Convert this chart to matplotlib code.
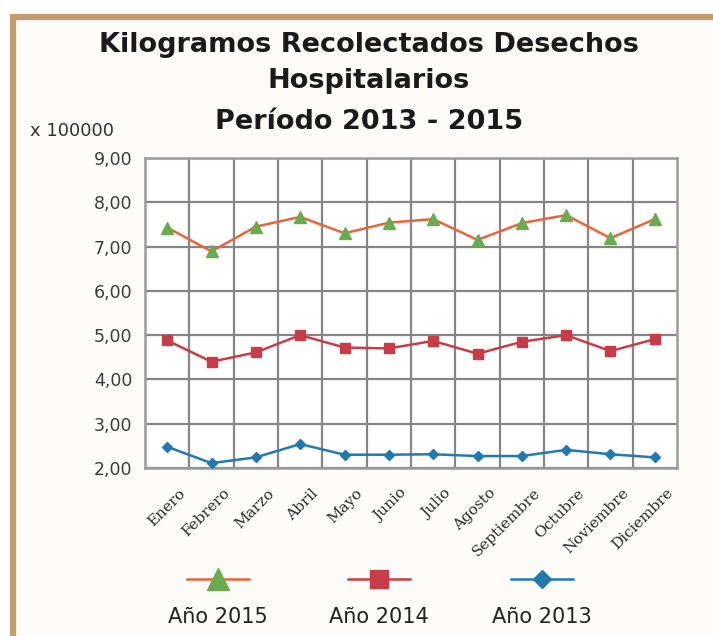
import matplotlib
matplotlib.use("Agg")
import matplotlib.pyplot as plt
from matplotlib.patches import Rectangle
from matplotlib.ticker import FuncFormatter
from matplotlib.transforms import ScaledTranslation

# ==========================================
# DATA (x 100000 kg)
# ==========================================
months = ["Enero", "Febrero", "Marzo", "Abril", "Mayo", "Junio", "Julio",
          "Agosto", "Septiembre", "Octubre", "Noviembre", "Diciembre"]
y2015 = [7.43, 6.89, 7.45, 7.67, 7.30, 7.54, 7.62, 7.15, 7.53, 7.71, 7.19, 7.62]
y2014 = [4.88, 4.40, 4.61, 5.00, 4.72, 4.70, 4.87, 4.58, 4.85, 5.00, 4.64, 4.91]
y2013 = [2.48, 2.11, 2.24, 2.54, 2.30, 2.30, 2.31, 2.27, 2.27, 2.41, 2.31, 2.24]
y_ticks = [2, 3, 4, 5, 6, 7, 8, 9]

# label, values, line colour, marker colour, marker, marker size, legend scale
series = [
    ("Año 2015", y2015, "#e8643c", "#6aab4f", "^", 8.5, 1.9),
    ("Año 2014", y2014, "#c83c48", "#c83c48", "s", 7, 1.75),
    ("Año 2013", y2013, "#2179b0", "#2179b0", "D", 5, 1.85),
]

SANS = ["DejaVu Sans"]
SERIF = ["DejaVu Serif"]
W, H = 713, 636

fig = plt.figure(figsize=(W / 100, H / 100), dpi=100)
fig.patch.set_facecolor("white")

# tan frame (only top and left edges visible)
fig.patches.append(Rectangle((13 / W, -0.5), 1.5, 1.5 - 17 / H,
                             transform=fig.transFigure, facecolor="#fdfcf9",
                             edgecolor="#c29c6c", lw=4.5, zorder=-10))

ax = fig.add_axes([145 / W, 1 - 468 / H, 532 / W, 310 / H])
ax.set_facecolor("white")

x = list(range(len(months)))
handles = []
for label, vals, lc, mc, mk, msz, _ in series:
    h, = ax.plot(x, vals, color=lc, lw=1.8, marker=mk, markersize=msz,
                 markerfacecolor=mc, markeredgecolor=mc, zorder=3, label=label)
    handles.append(h)

ax.set_xlim(-0.5, len(months) - 0.5)
ax.set_ylim(2, 9)
ax.set_yticks(y_ticks)
ax.yaxis.set_major_formatter(FuncFormatter(lambda v, p: f"{v:.2f}".replace(".", ",")))
ax.set_xticks(x)
ax.set_xticks([i + 0.5 for i in x[:-1]], minor=True)
ax.set_xticklabels(months, rotation=45, ha="right", va="center", rotation_mode="anchor",
                   family=SERIF, fontsize=11, color="#2a2a2a")
ax.tick_params(axis="x", which="both", length=0, pad=0)
ax.tick_params(axis="y", length=0, pad=9, labelsize=12.5, labelcolor="#3a3a3a")
for t in ax.get_yticklabels():
    t.set_family(SANS)
# shift month labels right/down so their right ends sit just past each point
shift = ScaledTranslation(0.16, -0.23, fig.dpi_scale_trans)
for t in ax.get_xticklabels():
    t.set_transform(t.get_transform() + shift)

ax.grid(True, axis="y", which="major", color="#858585", lw=1.6)
ax.grid(True, axis="x", which="minor", color="#858585", lw=1.6)
ax.set_axisbelow(True)
for s in ax.spines.values():
    s.set_color("#9a9a9a")
    s.set_linewidth(1.8)

# title
title_kw = dict(ha="center", va="center", family=SANS, fontweight="bold",
                fontsize=19.5, color="#1a1a1a")
fig.text(0.5175, 1 - 45 / H, "Kilogramos Recolectados Desechos", **title_kw)
fig.text(0.5175, 1 - 81 / H, "Hospitalarios", **title_kw)
fig.text(0.5175, 1 - 122 / H, "Período 2013 - 2015", **title_kw)
fig.text(30 / W, 1 - 131 / H, "x 100000", ha="left", va="center",
         family=SANS, fontsize=13, color="#333333")

# legend: handle on top, label below
centers = [218, 379, 542]
for h, cx, s in zip(handles, centers, series):
    fig.legend(handles=[h], labels=[""], loc="center", bbox_to_anchor=(cx / W, 1 - 580 / H),
               handlelength=4.5, handletextpad=0, borderpad=0, frameon=False,
               markerscale=s[6], fontsize=10)
    fig.text(cx / W, 1 - 617 / H, h.get_label(), ha="center", va="center",
             family=SANS, fontsize=15, color="#222222")

fig.savefig("out.png", dpi=100)
